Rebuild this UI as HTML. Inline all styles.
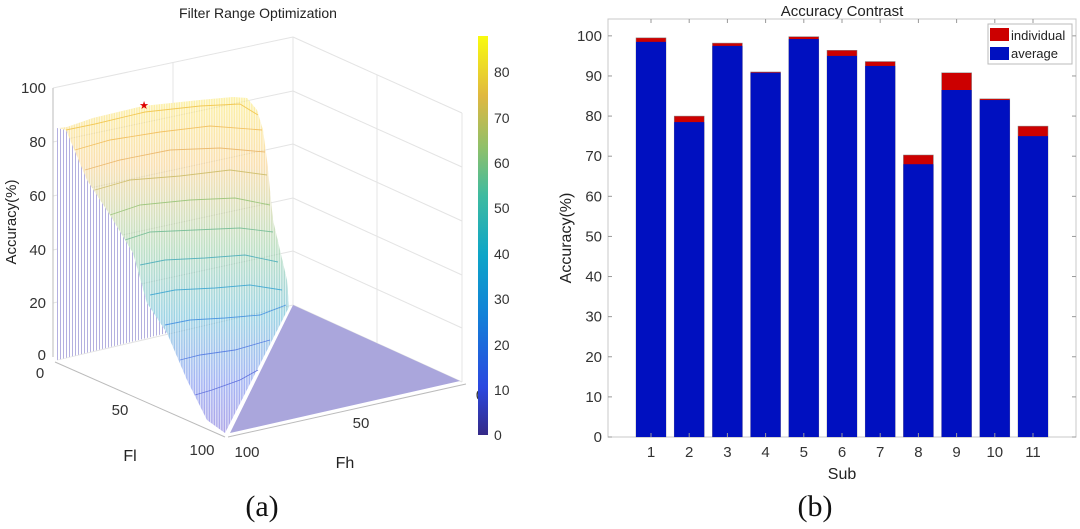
<!DOCTYPE html>
<html><head><meta charset="utf-8"><style>
html,body{margin:0;padding:0;background:#fff;}
svg{display:block;font-family:"Liberation Sans",sans-serif;}
</style></head><body>
<svg id="root" width="1080" height="529" viewBox="0 0 1080 529">
<defs>
<linearGradient id="surfGrad" x1="0" y1="0" x2="0" y2="1" gradientUnits="objectBoundingBox">
<stop offset="0" stop-color="#f9e34a"/><stop offset="0.2" stop-color="#f5c060"/><stop offset="0.45" stop-color="#7cc08a"/><stop offset="0.65" stop-color="#3aa8c8"/><stop offset="0.85" stop-color="#4a6ae8"/><stop offset="1" stop-color="#5a4ad0"/>
</linearGradient>
<linearGradient id="cbGrad" x1="0" y1="1" x2="0" y2="0">
<stop offset="0" stop-color="#352a87"/><stop offset="0.12" stop-color="#2b48e0"/><stop offset="0.3" stop-color="#1281d8"/><stop offset="0.45" stop-color="#0da5c8"/><stop offset="0.6" stop-color="#3fbba0"/><stop offset="0.72" stop-color="#8fc06a"/><stop offset="0.85" stop-color="#e0b840"/><stop offset="1" stop-color="#f9fb0e"/>
</linearGradient>
<pattern id="vlines" width="3" height="10" patternUnits="userSpaceOnUse"><rect width="3" height="10" fill="#fff"/><rect width="1" height="10" fill="#b4b0e0"/></pattern>
<pattern id="mesh" width="2.5" height="10" patternUnits="userSpaceOnUse"><rect width="1.2" height="10" fill="#fff" opacity="0.6"/></pattern>
</defs>

<g>
<text x="258" y="18" font-size="14" text-anchor="middle" fill="#222">Filter Range Optimization</text>
<g stroke="#e4e4e4" stroke-width="1" fill="none">
<line x1="53" y1="88" x2="293" y2="37"/><line x1="53" y1="142" x2="293" y2="91"/><line x1="53" y1="196" x2="293" y2="144"/><line x1="53" y1="250" x2="293" y2="198"/><line x1="53" y1="303" x2="293" y2="251"/><line x1="57" y1="360" x2="293" y2="305"/>
<line x1="293" y1="37" x2="462" y2="113"/><line x1="293" y1="91" x2="462" y2="167"/><line x1="293" y1="144" x2="462" y2="221"/><line x1="293" y1="198" x2="462" y2="275"/><line x1="293" y1="251" x2="462" y2="328"/><line x1="293" y1="305" x2="462" y2="382"/>
<line x1="293" y1="37" x2="293" y2="305"/><line x1="462" y1="113" x2="462" y2="382"/>
<line x1="173" y1="62" x2="173" y2="332"/><line x1="377" y1="75" x2="377" y2="344"/>
</g>
<g stroke="#bbb" stroke-width="1">
<line x1="53" y1="88" x2="53" y2="357"/>
<line x1="55" y1="362" x2="225" y2="437"/>
<line x1="228" y1="437" x2="466" y2="384"/>
</g>
<polygon points="57,360 57,128 66,130 87,180 110,215 133,253 147,303 167,333" fill="url(#vlines)"/>
<polygon points="59,128 67,127 93,118 143,106 200,100 233,97 247,98 257,110 263,130 267,160 273,220 280,250 287,280 289,307 225,433 207,420 187,380 167,333 147,303 133,253 110,215 87,180 66,130" fill="url(#surfGrad)" opacity="0.5"/>
<polygon points="59,128 67,127 93,118 143,106 200,100 233,97 247,98 257,110 263,130 267,160 273,220 280,250 287,280 289,307 225,433 207,420 187,380 167,333 147,303 133,253 110,215 87,180 66,130" fill="url(#mesh)"/>
<g fill="none" stroke-width="0.9" opacity="0.8">
<polyline points="66,130 95,124 145,112 200,106 240,104 258,115" stroke="#f0c040"/>
<polyline points="75,150 110,140 160,132 210,126 262,130" stroke="#f0b850"/>
<polyline points="85,170 120,160 170,150 220,148 265,152" stroke="#e8b060"/>
<polyline points="95,190 130,180 180,176 230,170 267,175" stroke="#c8b860"/>
<polyline points="110,215 140,205 190,200 235,198 270,205" stroke="#90c070"/>
<polyline points="125,240 150,232 195,230 240,228 273,232" stroke="#6ab890"/>
<polyline points="140,265 165,260 205,258 245,255 278,262" stroke="#40a8b8"/>
<polyline points="150,295 175,290 215,288 250,285 282,290" stroke="#30a0d0"/>
<polyline points="165,325 190,320 225,318 260,315 286,305" stroke="#3888e0"/>
<polyline points="180,360 200,355 235,350 270,340" stroke="#4870e0"/>
<polyline points="195,395 212,390 240,380 258,370" stroke="#5060d8"/>
</g>
<polygon points="230,433 293,305 460,381" fill="#aaa6dc"/>
<text x="144" y="109" font-size="11" fill="#d00" text-anchor="middle">★</text>
<g font-size="15" fill="#333" text-anchor="end">
<text x="46" y="93">100</text><text x="46" y="147">80</text><text x="46" y="201">60</text><text x="46" y="255">40</text><text x="46" y="308">20</text><text x="46" y="360">0</text>
</g>
<text transform="translate(16,222) rotate(-90)" font-size="15" fill="#222" text-anchor="middle">Accuracy(%)</text>
<g font-size="15" fill="#333" text-anchor="middle">
<text x="40" y="378">0</text><text x="120" y="415">50</text><text x="202" y="455">100</text>
</g>
<text x="130" y="461" font-size="16" fill="#222" text-anchor="middle">Fl</text>
<g font-size="15" fill="#333" text-anchor="middle">
<text x="247" y="457">100</text><text x="361" y="428">50</text><text x="480" y="400">0</text>
</g>
<text x="345" y="468" font-size="16" fill="#222" text-anchor="middle">Fh</text>
<rect x="478" y="36" width="10" height="399" fill="url(#cbGrad)"/>
<g font-size="14" fill="#333">
<text x="494" y="440">0</text><text x="494" y="395">10</text><text x="494" y="350">20</text><text x="494" y="304">30</text><text x="494" y="259">40</text><text x="494" y="213">50</text><text x="494" y="168">60</text><text x="494" y="123">70</text><text x="494" y="77">80</text>
</g>
<text x="262" y="516" font-family="Liberation Serif, serif" font-size="30" text-anchor="middle" fill="#111">(a)</text>
</g>

<g id="barchart">
<text x="842" y="16" font-size="15" text-anchor="middle" fill="#222">Accuracy Contrast</text>
<text transform="translate(571,238) rotate(-90)" font-size="16" fill="#222" text-anchor="middle">Accuracy(%)</text>
<text x="842" y="479" font-size="16" fill="#222" text-anchor="middle">Sub</text>
<text x="815" y="516" font-family="Liberation Serif, serif" font-size="30" text-anchor="middle" fill="#111">(b)</text>
</g>
</svg>
<script>
const categories = ['1','2','3','4','5','6','7','8','9','10','11'];
const averageValues = [98.5, 78.5, 97.5, 90.8, 99.2, 95.0, 92.5, 68.0, 86.5, 84.0, 75.0];
const individualValues = [99.5, 80.0, 98.2, 91.0, 99.8, 96.4, 93.6, 70.3, 90.8, 84.3, 77.5];
const yTicks = [0,10,20,30,40,50,60,70,80,90,100];

const NS = 'http://www.w3.org/2000/svg';
const g = document.getElementById('barchart');
const L = 608, R = 1076, T = 19, B = 437;
const yMax = 104.2;
const y = v => B - v / yMax * (B - T);
const step = 38.2, x0 = 651;
const xc = i => x0 + i * step;
const bw = 30;
function mk(tag, attrs) { const e = document.createElementNS(NS, tag); for (const k in attrs) e.setAttribute(k, attrs[k]); g.appendChild(e); return e; }

const frame = mk('rect', {x:L, y:T, width:R-L, height:B-T, fill:'none', stroke:'#c8c8c8'});



yTicks.forEach(t => {
  const tl = mk('line', {x1:L, x2:L+4, y1:y(t), y2:y(t), stroke:'#999'});
  
  
  const tr = mk('line', {x1:R-4, x2:R, y1:y(t), y2:y(t), stroke:'#999'});
  
  
  const tx = mk('text', {x:L-6, y:y(t)+5, 'font-size':15, 'text-anchor':'end', fill:'#333'});
  tx.textContent = t;
  
  
});

categories.forEach((c, i) => {
  const top = mk('rect', {x:xc(i)-bw/2, y:y(individualValues[i]), width:bw, height:y(0)-y(individualValues[i]), fill:'#cc0000', stroke:'#888', 'stroke-width':0.5});
  
  
  const avg = mk('rect', {x:xc(i)-bw/2, y:y(averageValues[i]), width:bw, height:y(0)-y(averageValues[i]), fill:'#0010c0'});
  
  
  const tm = mk('line', {x1:xc(i), x2:xc(i), y1:B, y2:B-4, stroke:'#999'});
  
  
  const tt = mk('line', {x1:xc(i), x2:xc(i), y1:T, y2:T+4, stroke:'#999'});
  
  
  const lb = mk('text', {x:xc(i), y:B+20, 'font-size':15, 'text-anchor':'middle', fill:'#333'});
  lb.textContent = c;
  
  
});

const lg = mk('rect', {x:988, y:24, width:84, height:40, fill:'#fff', stroke:'#bbb'});


const s1 = mk('rect', {x:990, y:28, width:19, height:13, fill:'#cc0000'});


const t1 = mk('text', {x:1011, y:40, 'font-size':13, fill:'#222'});
t1.textContent = 'individual';


const s2 = mk('rect', {x:990, y:47, width:19, height:13, fill:'#0010c0'});


const t2 = mk('text', {x:1011, y:58, 'font-size':13, fill:'#222'});
t2.textContent = 'average';


</script>
</body></html>
